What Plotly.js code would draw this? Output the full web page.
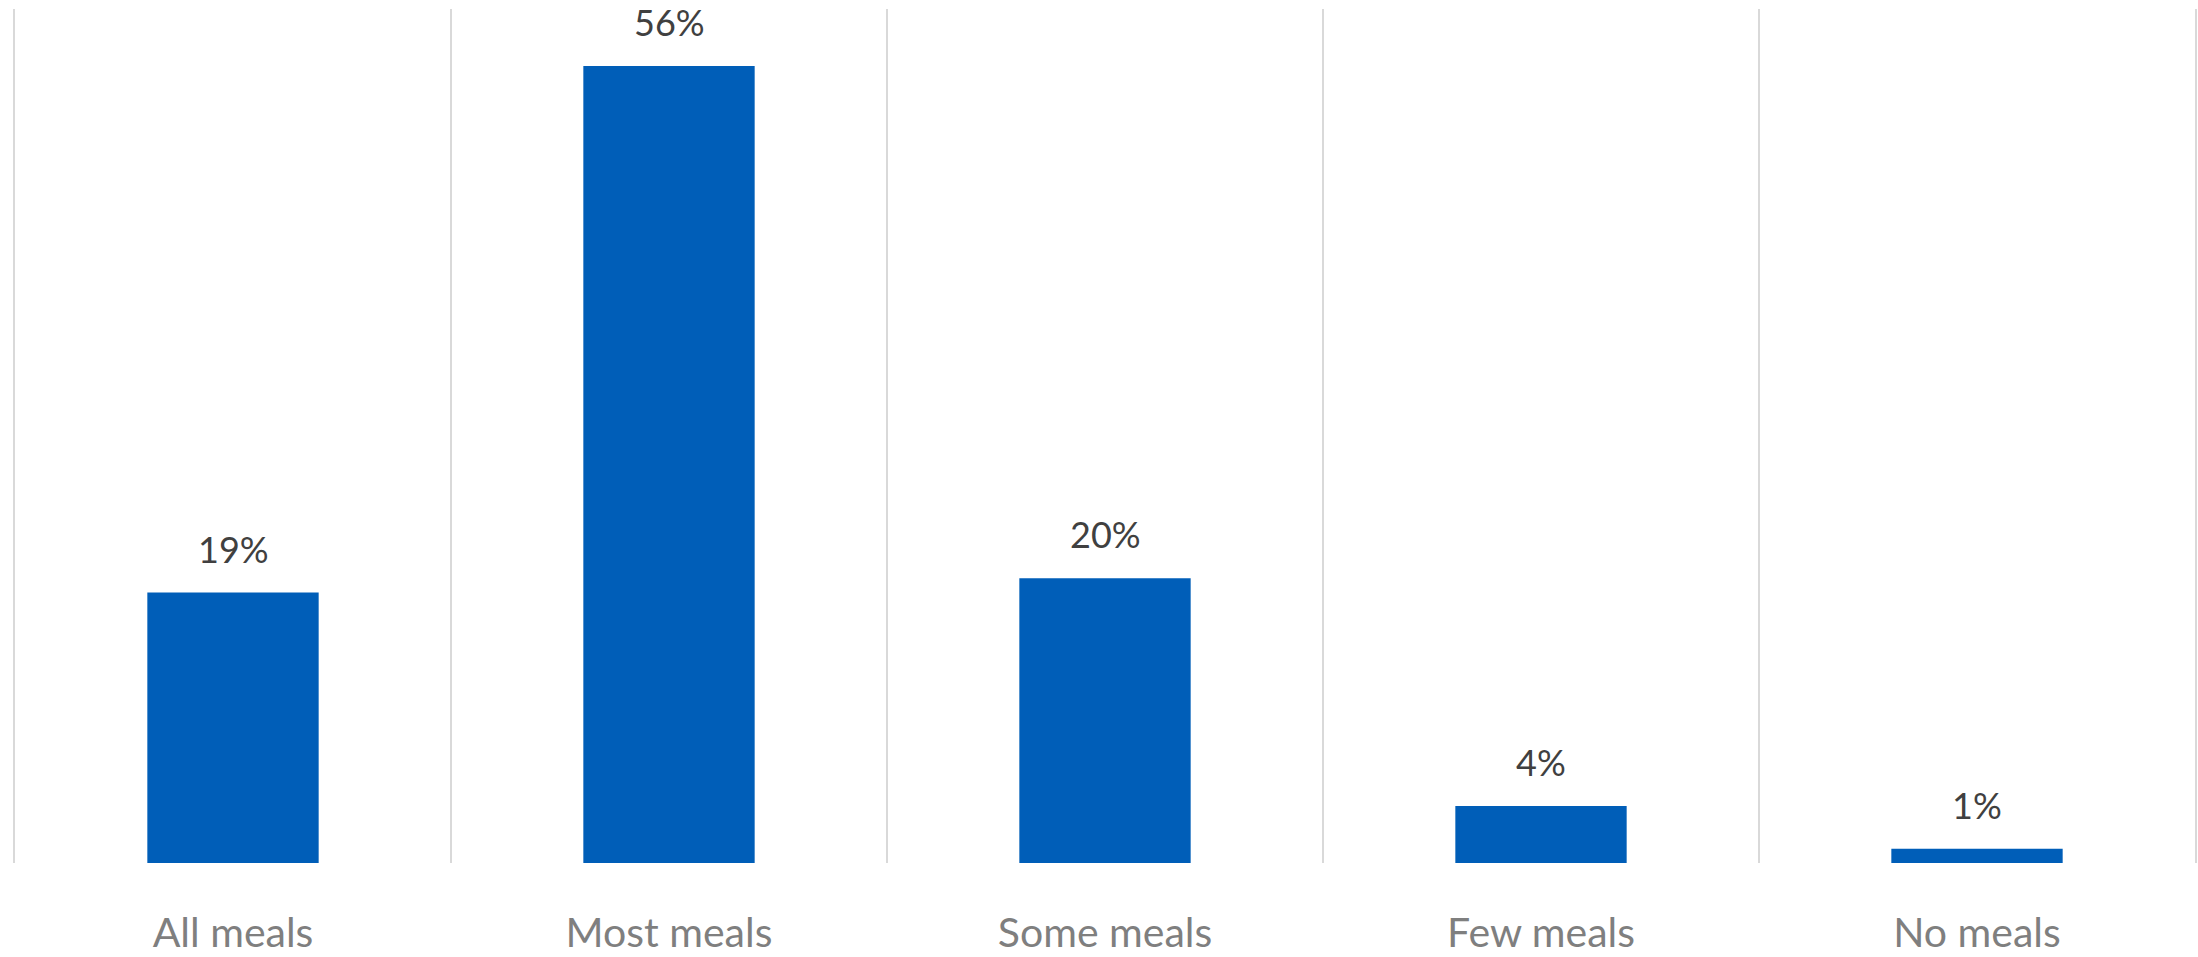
<!DOCTYPE html>
<html>
<head>
<meta charset="utf-8">
<script src="https://cdn.plot.ly/plotly-3.0.1.min.js"></script>
<style>html,body{margin:0;padding:0;background:#fff;}#chart{width:2198px;height:957px;}</style>
</head>
<body>
<div id="chart"></div>
<script>
const categories = ["All meals", "Most meals", "Some meals", "Few meals", "No meals"];
const values = [19, 56, 20, 4, 1];
const valueLabels = ["19%", "56%", "20%", "4%", "1%"];

const FONT = "Lato, 'Open Sans', sans-serif";

const trace = {
  type: "bar",
  x: categories,
  y: values,
  marker: {color: "#005EB8", line: {width: 0}},
  hoverinfo: "skip",
  showlegend: false
};

const annotations = categories.map((c, i) => ({
  x: c, y: values[i], xref: "x", yref: "y",
  text: valueLabels[i], showarrow: false,
  yanchor: "bottom", xanchor: "center", yshift: 20,
  font: {family: FONT, size: 36, color: "#404040"}
}));

const layout = {
  width: 2198, height: 957,
  margin: {l: 15, r: 3, t: 9, b: 94},
  paper_bgcolor: "#ffffff", plot_bgcolor: "#ffffff",
  bargap: 0.607,
  xaxis: {
    type: "category",
    range: [-0.5, 4.5],
    tickson: "boundaries",
    showgrid: true, gridcolor: "#d9d9d9", gridwidth: 2,
    ticks: "", ticklabelstandoff: 42,
    tickfont: {family: FONT, size: 41, color: "#7f7f7f"},
    showline: false, zeroline: false, automargin: false, fixedrange: true
  },
  yaxis: {
    range: [0, 60],
    showgrid: false, zeroline: false, showticklabels: false,
    showline: true, mirror: true, linecolor: "#d9d9d9", linewidth: 2,
    ticks: "", automargin: false, fixedrange: true
  },
  annotations: annotations
};

Plotly.newPlot("chart", [trace], layout, {displayModeBar: false, staticPlot: true});
</script>
</body>
</html>
